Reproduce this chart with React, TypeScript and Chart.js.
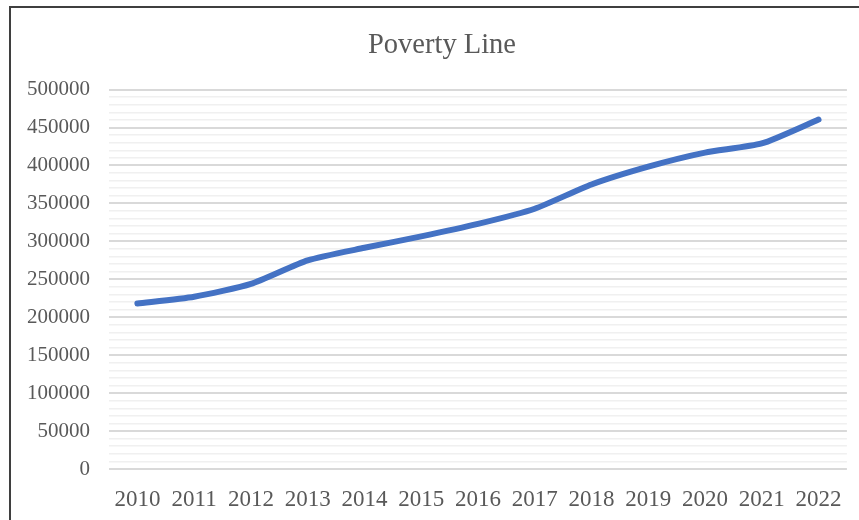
import React, { useEffect, useRef } from "react";
import { Chart, registerables } from "chart.js";

Chart.register(...registerables);

const years = ["2010", "2011", "2012", "2013", "2014", "2015", "2016", "2017", "2018", "2019", "2020", "2021", "2022"];
const povertyLine = [218000, 227000, 244000, 275000, 291500, 306500, 323000, 343000, 375000, 398500, 417000, 429000, 460500];
const chartTitle = "Poverty Line";
const serif = "'Liberation Serif', 'Times New Roman', serif";

const frame = {
  id: "frame",
  beforeDraw(chart: any) {
    const ctx = chart.ctx;
    ctx.save();
    ctx.fillStyle = "#ffffff";
    ctx.fillRect(0, 0, chart.width, chart.height);
    ctx.strokeStyle = "#3f3f3f";
    ctx.lineWidth = 2;
    ctx.beginPath();
    ctx.moveTo(10, chart.height);
    ctx.lineTo(10, 7);
    ctx.lineTo(chart.width, 7);
    ctx.stroke();
    ctx.fillStyle = "#595959";
    ctx.font = `28.5px ${serif}`;
    ctx.textAlign = "center";
    ctx.textBaseline = "middle";
    ctx.fillText(chartTitle, 442, 45.5);
    ctx.restore();
  },
};

export default function App() {
  const ref = useRef<HTMLCanvasElement>(null);
  useEffect(() => {
    if (!ref.current) return;
    const chart = new Chart(ref.current, {
      type: "line",
      data: {
        labels: years,
        datasets: [
          {
            label: chartTitle,
            data: povertyLine,
            borderColor: "#4472C4",
            backgroundColor: "#4472C4",
            borderWidth: 6,
            pointRadius: 0,
            tension: 0.2,
            borderCapStyle: "round",
            borderJoinStyle: "round",
          },
        ],
      },
      options: {
        responsive: false,
        animation: false,
        layout: { padding: { left: 0, right: 12, top: 89.6, bottom: 0 } },
        plugins: {
          legend: { display: false },
          tooltip: { enabled: false },
          title: { display: false },
        },
        scales: {
          x: {
            offset: true,
            grid: { display: false, drawTicks: false },
            border: { display: false },
            ticks: {
              color: "#595959",
              font: { family: serif, size: 23 },
              padding: 17,
              maxRotation: 0,
              autoSkip: false,
            },
            afterFit: (s: any) => {
              s.height = 51;
            },
          },
          y: {
            min: 0,
            max: 500000,
            grid: {
              drawTicks: false,
              color: (c: any) => (c.tick && c.tick.value % 50000 === 0 ? "#d9d9d9" : "#f0f0f0"),
              lineWidth: (c: any) => (c.tick && c.tick.value % 50000 === 0 ? 2 : 1.5),
            },
            border: { display: false },
            ticks: {
              stepSize: 10000,
              autoSkip: false,
              color: "#595959",
              padding: 19,
              font: { family: serif, size: 21 },
              callback: (v: any) => (Number(v) % 50000 === 0 ? String(v) : ""),
            },
            afterFit: (s: any) => {
              s.width = 109;
            },
          },
        },
      },
      plugins: [frame],
    });
    return () => chart.destroy();
  }, []);
  return (
    <div style={{ position: "absolute", left: 0, top: 0, width: 859, height: 520 }}>
      <canvas ref={ref} width={859} height={520} style={{ display: "block" }} />
    </div>
  );
}
